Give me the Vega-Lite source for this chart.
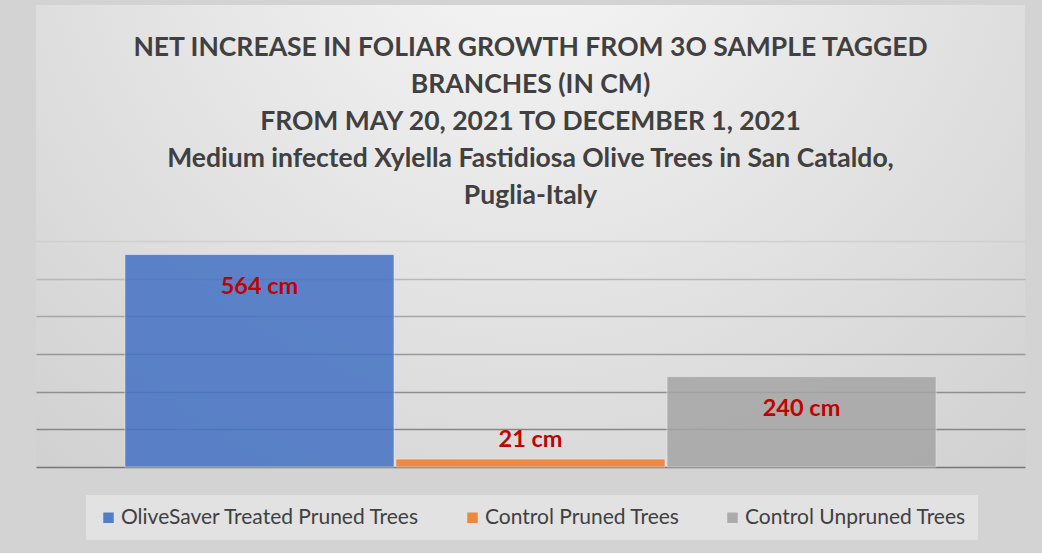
{
  "$schema": "https://vega.github.io/schema/vega-lite/v6.json",
  "width": 989,
  "height": 462,
  "padding": {"left": 36, "top": 5, "right": 17, "bottom": 13},
  "autosize": {"type": "pad"},
  "background": "#d3d3d3",
  "title": {
    "text": [
      "NET INCREASE IN FOLIAR GROWTH FROM 3O SAMPLE TAGGED",
      "BRANCHES (IN CM)",
      "FROM MAY 20, 2021 TO DECEMBER 1, 2021",
      "Medium infected Xylella Fastidiosa Olive Trees in San Cataldo,",
      "Puglia-Italy"
    ],
    "font": "Lato",
    "fontSize": 26.5,
    "fontWeight": "bold",
    "color": "#404040",
    "lineHeight": 37,
    "baseline": "top",
    "anchor": "middle",
    "offset": -204
  },
  "data": {
    "values": [
      {"group": "OliveSaver Treated Pruned Trees", "value": 564, "label": "564 cm"},
      {"group": "Control Pruned Trees", "value": 21, "label": "21 cm"},
      {"group": "Control Unpruned Trees", "value": 240, "label": "240 cm"}
    ]
  },
  "encoding": {
    "x": {
      "field": "group",
      "type": "nominal",
      "sort": null,
      "axis": null,
      "scale": {"paddingInner": 0.007, "paddingOuter": 0.328}
    },
    "y": {
      "field": "value",
      "type": "quantitative",
      "scale": {"domain": [0, 1226.5], "nice": false, "zero": true},
      "axis": {
        "values": [0, 100, 200, 300, 400, 500, 600],
        "labels": false,
        "ticks": false,
        "domain": false,
        "title": null,
        "grid": true,
        "gridWidth": 1.6,
        "gridColor": {
          "condition": [
            {"test": "datum.value >= 600", "value": "#d0d0d0"},
            {"test": "datum.value >= 500", "value": "#b8b8b8"},
            {"test": "datum.value >= 400", "value": "#a6a6a6"},
            {"test": "datum.value >= 300", "value": "#989898"},
            {"test": "datum.value >= 200", "value": "#8e8e8e"},
            {"test": "datum.value >= 100", "value": "#878787"}
          ],
          "value": "#767676"
        }
      }
    }
  },
  "layer": [
    {
      "mark": {"type": "bar", "opacity": 0.85, "stroke": "#f2f2f2", "strokeWidth": 1, "strokeOpacity": 0.6},
      "encoding": {
        "color": {
          "field": "group",
          "type": "nominal",
          "sort": null,
          "scale": {
            "domain": ["OliveSaver Treated Pruned Trees", "Control Pruned Trees", "Control Unpruned Trees"],
            "range": ["#4472c4", "#ed7d31", "#a5a5a5"]
          },
          "legend": {
            "title": null,
            "orient": "none",
            "legendX": 50,
            "legendY": 490,
            "direction": "horizontal",
            "symbolType": "square",
            "symbolSize": 110,
            "symbolStrokeWidth": 0,
            "symbolOpacity": 0.9,
            "labelFont": "Lato",
            "labelFontSize": 21,
            "labelColor": "#404040",
            "labelOffset": 2,
            "labelLimit": 400,
            "columnPadding": 42,
            "padding": 12,
            "fillColor": "#e2e2e2"
          }
        }
      }
    },
    {
      "transform": [{"filter": "datum.value >= 50"}],
      "mark": {"type": "text", "font": "Lato", "fontSize": 23.5, "fontWeight": "bold", "color": "#c00000", "baseline": "middle", "dy": 32},
      "encoding": {
        "text": {"field": "label"}
      }
    },
    {
      "transform": [{"filter": "datum.value < 50"}],
      "mark": {"type": "text", "font": "Lato", "fontSize": 23.5, "fontWeight": "bold", "color": "#c00000", "baseline": "middle", "dy": -19},
      "encoding": {
        "text": {"field": "label"}
      }
    }
  ],
  "config": {
    "view": {
      "stroke": null,
      "fill": {
        "gradient": "radial",
        "x1": 0.5, "y1": 0.15, "r1": 0,
        "x2": 0.5, "y2": 0.15, "r2": 0.8,
        "stops": [
          {"offset": 0, "color": "#f8f8f8"},
          {"offset": 1, "color": "#cfcfcf"}
        ]
      }
    }
  }
}
